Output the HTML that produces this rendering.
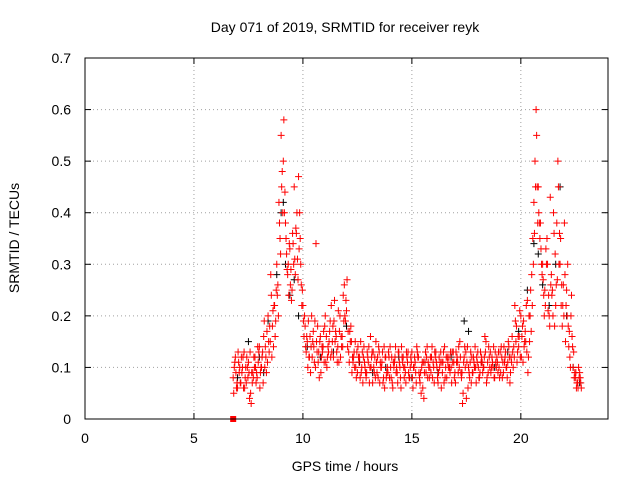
<!DOCTYPE html>
<html><head><meta charset="utf-8"><style>
body{margin:0;background:#fff}
svg{display:block;font-family:"Liberation Sans",sans-serif}
</style></head><body>
<svg id="chart" width="640" height="480">
<text x="345" y="32" text-anchor="middle" font-size="14">Day 071 of 2019, SRMTID for receiver reyk</text>
<text x="345" y="471" text-anchor="middle" font-size="14">GPS time / hours</text>
<text transform="translate(19,238) rotate(-90)" text-anchor="middle" font-size="14">SRMTID / TECUs</text>
<g id="grid"></g><g id="ticks"></g><g id="marks"></g>
<rect x="85" y="58" width="523" height="361" fill="none" stroke="#000"/>
</svg>
<script>
const xTicks=[0,5,10,15,20];
const yTicks=[0,0.1,0.2,0.3,0.4,0.5,0.6,0.7];
const yTickLabels=["0","0.1","0.2","0.3","0.4","0.5","0.6","0.7"];
const redStart=6.8, redStep=0.1;
const redA=[.08,.12,.06,.10,.09,.13,.07,.11,.05,.09,.12,.08,.14,.10,.16,.12,.20,.15,.18,.22,.30,.42,.55,.50,.38,.28,.33,.25,.45,.36,.47,.30,.22,.18,.15,.12,.20,.14,.34,.11,.16,.13,.18,.10,.15,.22,.12,.17,.14,.20,.16,.26,.21,.13,.18,.11,.15,.09,.12,.10,.14,.08,.11,.16,.07,.12,.09,.13,.10,.08,.12,.09,.14,.07,.11,.10,.13,.06,.12,.09,.11,.08,.13,.10,.07,.12,.09,.06,.11,.14,.08,.12,.10,.13,.07,.11,.09,.14,.08,.12,.10,.13,.07,.11,.15,.09,.12,.04,.10,.13,.09,.14,.11,.08,.12,.10,.15,.09,.13,.11,.08,.12,.10,.14,.09,.13,.11,.07,.16,.12,.18,.14,.20,.11,.17,.23,.15,.28,.42,.60,.45,.38,.30,.25,.35,.20,.28,.40,.22,.50,.30,.18,.38,.25,.14,.20,.10,.08,.07,.09];
const redB=[.10,.06,.11,.07,.12,.08,.10,.04,.09,.12,.07,.11,.09,.13,.10,.17,.13,.24,.14,.19,.26,.35,.48,.40,.32,.24,.29,.34,.28,.31,.40,.22,.16,.13,.19,.09,.15,.19,.13,.08,.12,.17,.11,.14,.19,.15,.23,.13,.11,.16,.24,.19,.14,.17,.09,.13,.08,.12,.15,.07,.10,.13,.07,.12,.10,.15,.08,.11,.13,.06,.09,.12,.08,.11,.14,.07,.10,.12,.08,.13,.09,.12,.06,.11,.13,.08,.10,.04,.09,.11,.12,.08,.13,.10,.12,.06,.13,.10,.11,.09,.13,.08,.11,.14,.09,.05,.10,.14,.08,.12,.11,.07,.10,.13,.09,.16,.08,.12,.10,.14,.11,.09,.13,.08,.11,.10,.14,.12,.10,.19,.13,.21,.16,.14,.22,.12,.25,.35,.50,.45,.38,.30,.24,.33,.21,.43,.25,.18,.38,.30,.22,.26,.15,.30,.12,.16,.08,.06,.10,.07];
const redC=[.05,.09,.13,.07,.10,.06,.12,.09,.03,.08,.10,.14,.06,.12,.19,.09,.15,.28,.21,.16,.24,.38,.45,.58,.35,.30,.26,.36,.31,.40,.33,.26,.19,.14,.10,.16,.12,.11,.15,.13,.09,.14,.20,.12,.17,.13,.19,.16,.21,.12,.14,.20,.27,.11,.15,.12,.10,.14,.08,.13,.11,.09,.14,.10,.13,.08,.12,.07,.11,.14,.08,.13,.10,.06,.12,.09,.11,.14,.10,.07,.13,.10,.08,.12,.14,.09,.05,.11,.13,.08,.10,.14,.07,.11,.09,.13,.11,.08,.12,.10,.07,.11,.13,.09,.12,.03,.14,.11,.09,.07,.12,.10,.13,.09,.11,.12,.07,.14,.09,.10,.13,.11,.08,.12,.14,.10,.15,.09,.13,.22,.11,.16,.12,.19,.15,.09,.20,.22,.36,.55,.40,.33,.27,.22,.30,.18,.24,.36,.26,.45,.35,.22,.28,.20,.17,.24,.13,.09,.06,.08];
const redD=[.11,.07,.09,.12,.06,.10,.08,.13,.07,.10,.09,.13,.10,.07,.14,.11,.18,.12,.22,.25,.20,.32,.40,.44,.29,.34,.23,.30,.37,.27,.35,.25,.20,.16,.12,.14,.17,.10,.18,.15,.14,.11,.16,.13,.12,.18,.15,.11,.17,.14,.19,.23,.17,.15,.12,.10,.13,.11,.09,.12,.09,.12,.10,.13,.09,.11,.14,.10,.07,.12,.10,.08,.12,.10,.09,.13,.08,.11,.10,.12,.08,.11,.10,.09,.12,.07,.11,.09,.12,.10,.09,.11,.12,.08,.10,.11,.07,.12,.10,.13,.11,.09,.12,.10,.08,.11,.13,.06,.11,.09,.10,.12,.08,.11,.10,.13,.11,.10,.12,.08,.10,.13,.09,.11,.12,.08,.12,.11,.14,.15,.16,.12,.18,.15,.13,.20,.17,.30,.45,.38,.35,.28,.20,.30,.24,.26,.20,.32,.27,.36,.26,.20,.22,.18,.10,.14,.09,.07,.08,.06];
const blackT=[7.0,7.5,8.0,8.4,8.8,9.0,9.2,9.4,9.6,9.8,10.2,10.8,11.4,12.0,12.6,13.2,13.8,14.4,15.0,15.6,16.2,16.8,17.4,17.6,18.2,18.8,19.4,19.9,20.3,20.6,20.8,21.0,21.3,21.6,21.8,22.1,22.4,22.7,8.2,9.1];
const blackV=[.08,.15,.12,.19,.28,.40,.30,.24,.27,.20,.14,.12,.13,.18,.11,.09,.10,.12,.08,.11,.09,.12,.19,.17,.11,.10,.13,.17,.25,.34,.32,.26,.22,.30,.45,.20,.10,.07,.09,.42];
const squareT=[6.8], squareV=[0];
const X0=85,X1=608,Y0=419,Y1=58;
const xs=v=>X0+(v/24)*(X1-X0);
const ys=v=>Y0-(v/0.7)*(Y0-Y1);
const NS="http://www.w3.org/2000/svg";
function mk(tag,attrs,parent){const e=document.createElementNS(NS,tag);for(const k in attrs)e.setAttribute(k,attrs[k]);parent.appendChild(e);return e;}
const grid=document.getElementById('grid'),ticks=document.getElementById('ticks'),marks=document.getElementById('marks');
xTicks.forEach(t=>{const x=xs(t);
 if(t>0){const g=mk('line',{x1:x,x2:x,y1:Y0,y2:Y1,stroke:'#a0a0a0','stroke-dasharray':'1,3'},grid);
 
 }
 mk('line',{x1:x,x2:x,y1:Y0,y2:Y0-6,stroke:'#000'},ticks);mk('line',{x1:x,x2:x,y1:Y1,y2:Y1+6,stroke:'#000'},ticks);
 const l=mk('text',{x:x,y:Y0+24,'text-anchor':'middle','font-size':14},ticks);l.textContent=t;
 
 });
yTicks.forEach((t,i)=>{const y=ys(t);
 if(t>0&&t<0.7){const g=mk('line',{x1:X0,x2:X1,y1:y,y2:y,stroke:'#a0a0a0','stroke-dasharray':'1,3'},grid);
 
 }
 mk('line',{x1:X0,x2:X0+6,y1:y,y2:y,stroke:'#000'},ticks);mk('line',{x1:X1,x2:X1-6,y1:y,y2:y,stroke:'#000'},ticks);
 const l=mk('text',{x:X0-14,y:y+5,'text-anchor':'end','font-size':14},ticks);l.textContent=yTickLabels[i];
 
 });
function plus(t,v,color,name){const x=xs(t),y=ys(v);
 const p=mk('path',{d:`M${x-3.5},${y}h7M${x},${y-3.5}v7`,stroke:color,'stroke-width':1,fill:'none'},marks);
 
 }
blackT.forEach((t,i)=>plus(t,blackV[i],'#000','black-point'));
redA.forEach((v,i)=>plus(redStart+i*redStep,v,'#f00','red-point'));
redC.forEach((v,i)=>plus(redStart+i*redStep+0.025,v,'#f00','red-point'));
redB.forEach((v,i)=>plus(redStart+i*redStep+0.05,v,'#f00','red-point'));
redD.forEach((v,i)=>plus(redStart+i*redStep+0.075,v,'#f00','red-point'));
squareT.forEach((t,i)=>{const r=mk('rect',{x:xs(t)-3,y:ys(squareV[i])-3,width:6,height:6,fill:'#f00'},marks);
 
 });
</script>
</body></html>
